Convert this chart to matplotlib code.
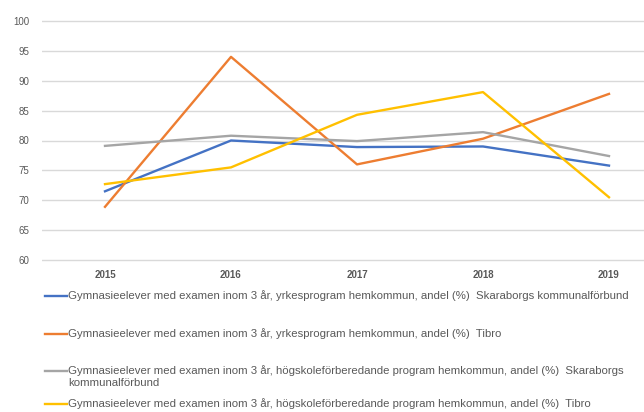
import matplotlib
matplotlib.use('Agg')
import matplotlib.pyplot as plt
from matplotlib.lines import Line2D

years = ['2015', '2016', '2017', '2018', '2019']

yrke_skaraborg = [71.5, 80.0, 78.9, 79.0, 75.8]
yrke_tibro = [68.9, 94.0, 76.0, 80.3, 87.8]
hogskola_skaraborg = [79.1, 80.8, 79.9, 81.4, 77.4]
hogskola_tibro = [72.7, 75.5, 84.3, 88.1, 70.5]

series_labels = [
    'Gymnasieelever med examen inom 3 år, yrkesprogram hemkommun, andel (%)  Skaraborgs kommunalförbund',
    'Gymnasieelever med examen inom 3 år, yrkesprogram hemkommun, andel (%)  Tibro',
    'Gymnasieelever med examen inom 3 år, högskoleförberedande program hemkommun, andel (%)  Skaraborgs\nkommunalförbund',
    'Gymnasieelever med examen inom 3 år, högskoleförberedande program hemkommun, andel (%)  Tibro',
]
colors = ['#4472C4', '#ED7D31', '#A5A5A5', '#FFC000']
y_ticks = [60, 65, 70, 75, 80, 85, 90, 95, 100]

plt.rcParams['font.family'] = ['Liberation Sans', 'DejaVu Sans']
text_color = '#595959'

W, H = 644, 412
fig = plt.figure(figsize=(W / 100, H / 100), dpi=100)
ax = fig.add_axes([42 / W, 1 - 262 / H, 630 / W, (262 - 19) / H])

x = range(len(years))
for vals, c in zip([yrke_skaraborg, yrke_tibro, hogskola_skaraborg, hogskola_tibro], colors):
    ax.plot(x, vals, color=c, linewidth=1.7, solid_joinstyle='round', zorder=3)

# a little room so the 60 and 100 gridlines are not clipped
pad = 40 * 2 / 239
ax.set_xlim(-0.5, len(years) - 0.5)
ax.set_ylim(60 - pad, 100 + pad)
ax.set_yticks(y_ticks)
ax.set_xticks(list(x))
ax.set_xticklabels(years)
ax.grid(axis='y', color='#D9D9D9', linewidth=1)
ax.set_axisbelow(True)
for s in ax.spines.values():
    s.set_visible(False)
ax.tick_params(length=0, labelsize=7, colors=text_color)
ax.tick_params(axis='y', pad=9)
ax.tick_params(axis='x', pad=6)
for lbl in ax.get_xticklabels():
    lbl.set_fontweight('bold')

# legend drawn by hand, one entry per row
legend_y = [296, 334, 371, 404]
for lab, c, yy in zip(series_labels, colors, legend_y):
    fy = 1 - yy / H
    fig.add_artist(Line2D([45 / W, 67 / W], [fy, fy], color=c, linewidth=1.7))
    for i, part in enumerate(lab.split('\n')):
        fig.text(68 / W, 1 - (yy + 12.5 * i) / H, part, fontsize=8.2, color=text_color, va='center')

fig.savefig('out.png', dpi=100)
